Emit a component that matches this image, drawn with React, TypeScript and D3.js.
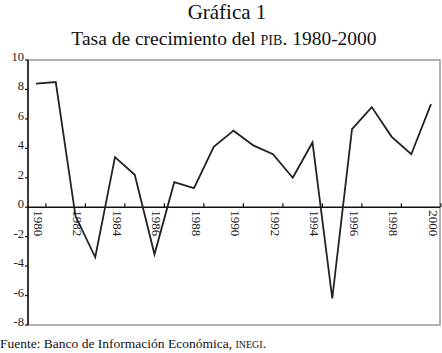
import React from "react";
import * as d3 from "d3";

const years = [1980,1981,1982,1983,1984,1985,1986,1987,1988,1989,1990,1991,1992,1993,1994,1995,1996,1997,1998,1999,2000];
const growth = [8.4,8.5,-0.6,-3.4,3.4,2.2,-3.2,1.7,1.3,4.1,5.2,4.2,3.6,2.0,4.4,-6.2,5.3,6.8,4.8,3.6,7.0];
const yTicks = [10,8,6,4,2,0,-2,-4,-6,-8];
const xLabelYears = [1980,1982,1984,1986,1988,1990,1992,1994,1996,1998,2000];
const xTickPos = [1980.5,1982.5,1984.5,1986.5,1988.5,1990.5,1992.5,1994.5,1996.5,1998.5,2000.5];

const serif = "'Liberation Serif', 'DejaVu Serif', serif";

export default function App() {
  const x = d3.scaleLinear().domain([1980, 2000]).range([36, 431]);
  const y = d3.scaleLinear().domain([-8, 10]).range([325, 60]);
  const line = d3.line<number>().x((_, i) => x(years[i])).y(d => y(d));
  const left = 28, right = 440, top = 60, bottom = 325;
  return (
    <svg width={442} height={353} style={{ position: "absolute", left: 0, top: 0, background: "#fff" }} fontFamily={serif}>
      <rect x={0} y={0} width={442} height={353} fill="#fff" />
      <text x={227} y={19} textAnchor="middle" fontSize={21} fill="#111">Gráfica 1</text>
      <text x={224} y={45} textAnchor="middle" fontSize={19.5} fill="#111">
        Tasa de crecimiento del <tspan fontSize={14}>PIB</tspan>. 1980-2000
      </text>
      {/* frame */}
      <rect x={left} y={top} width={right - left} height={bottom - top} fill="none" stroke="#999" strokeWidth={1.5} />
      <line x1={left} x2={left} y1={top} y2={bottom} stroke="#111" strokeWidth={1.5} />
      {/* zero line */}
      <line x1={left} x2={right} y1={y(0)} y2={y(0)} stroke="#111" strokeWidth={1.5} />
      {/* y ticks */}
      {yTicks.map(t => (
        <g key={t}>
          <line x1={left - 3} x2={left} y1={y(t)} y2={y(t)} stroke="#111" strokeWidth={1.2} />
          <text x={left - 4} y={y(t) + 1} textAnchor="end" fontSize={12.5} fill="#222">{t}</text>
        </g>
      ))}
      {/* x ticks */}
      {xTickPos.map(t => (
        <line key={t} x1={x(t)} x2={x(t)} y1={y(0) - 4} y2={y(0)} stroke="#111" strokeWidth={1.2} />
      ))}
      {xLabelYears.map(yr => (
        <text key={yr} transform={`translate(${x(yr) + 2},${y(0) + 3}) rotate(90)`} textAnchor="start" dominantBaseline="central" fontSize={13} fill="#222">{yr}</text>
      ))}
      <path d={line(growth) || ""} fill="none" stroke="#222" strokeWidth={1.8} strokeLinejoin="miter" />
      <text x={0} y={348} fontSize={13.5} fill="#111">
        Fuente: Banco de Información Económica, <tspan fontSize={10}>INEGI</tspan>.
      </text>
    </svg>
  );
}
